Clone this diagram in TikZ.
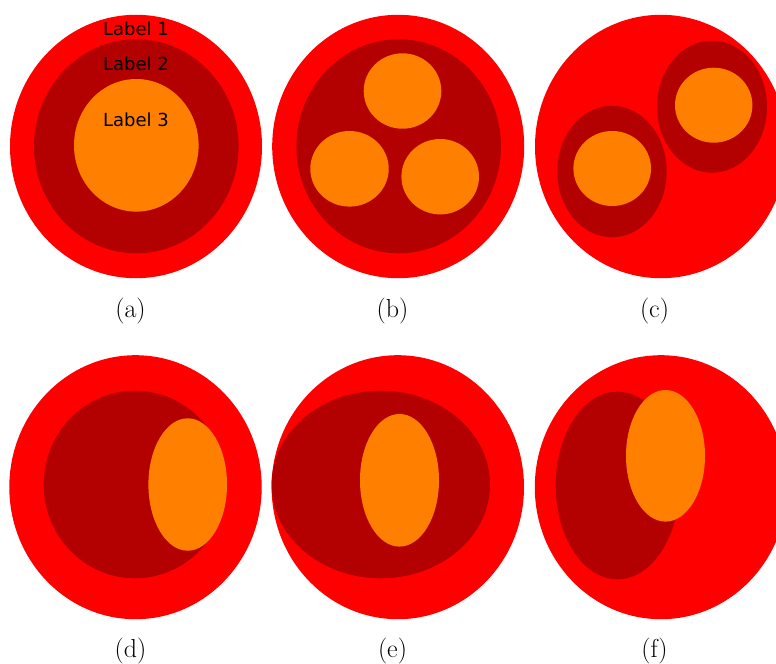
\documentclass[tikz,border=0pt]{standalone}
\usepackage{fontspec}
\newfontfamily\lblfont{DejaVu Sans}
\definecolor{cOuter}{RGB}{255,0,0}
\definecolor{cMid}{RGB}{179,0,0}
\definecolor{cCore}{RGB}{255,128,0}
\begin{document}
\begin{tikzpicture}[x=0.75pt,y=-0.75pt,
  outerfill/.style={fill=cOuter},
  midfill/.style={fill=cMid},
  corefill/.style={fill=cCore},
  lbl/.style={inner sep=0pt,font=\lblfont\fontsize{13.5}{15}\selectfont},
  subcap/.style={inner sep=0pt,font=\fontsize{19.5}{22}\selectfont}]
\useasboundingbox (0,0) rectangle (776,664);
\clip (0,0) rectangle (776,664);
% (a)
\fill[outerfill] (136,146.5) ellipse [x radius=126, y radius=131.7];
\fill[midfill] (136.3,146.3) ellipse [x radius=102.3, y radius=107];
\fill[corefill] (136.3,145.3) ellipse [x radius=62.3, y radius=66.3];
\node[lbl] (l1) at (136,29) {Label 1};
\node[lbl] (l2) at (136,63.5) {Label 2};
\node[lbl] (l3) at (136,119.5) {Label 3};
% (b)
\fill[outerfill] (398.2,146.5) ellipse [x radius=126, y radius=131.7];
\fill[midfill] (398.7,146.3) ellipse [x radius=102.3, y radius=107];
\fill[corefill] (402.5,91) ellipse [x radius=38.8, y radius=37.7];
\fill[corefill] (349.5,168.8) ellipse [x radius=39.2, y radius=37.8];
\fill[corefill] (440.2,176.7) ellipse [x radius=38.8, y radius=37.7];
% (c)
\fill[outerfill] (661,146.5) ellipse [x radius=126, y radius=131.7];
\fill[midfill] (612,171.5) ellipse [x radius=54.7, y radius=65.8];
\fill[corefill] (612.2,168.5) ellipse [x radius=38.8, y radius=37.5];
\fill[midfill] (712,106.7) ellipse [x radius=55, y radius=66];
\fill[corefill] (713.7,105.2) ellipse [x radius=38.7, y radius=37.5];
% (d)
\fill[outerfill] (135.5,487.2) ellipse [x radius=126.2, y radius=132];
\fill[midfill] (135,484.5) ellipse [x radius=91.3, y radius=93.8];
\fill[corefill] (187.7,484.5) ellipse [x radius=39.3, y radius=66.2];
% (e)
\fill[outerfill] (397.8,487.2) ellipse [x radius=126.2, y radius=132];
\fill[midfill] (380.8,484.5) ellipse [x radius=109.2, y radius=93.8];
\fill[corefill] (399.5,480.3) ellipse [x radius=39.5, y radius=66.3];
% (f)
\fill[outerfill] (661,487.2) ellipse [x radius=126.2, y radius=132];
\fill[midfill] (617.5,485.5) ellipse [x radius=61.8, y radius=93.8];
\fill[corefill] (665.5,455.8) ellipse [x radius=39.5, y radius=65.8];
% captions
\node[subcap] (ca) at (130.5,311.5) {(a)};
\node[subcap] (cb) at (392.5,311.5) {(b)};
\node[subcap] (cc) at (654.5,311.5) {(c)};
\node[subcap] (cd) at (130.5,651.5) {(d)};
\node[subcap] (ce) at (392.5,651.5) {(e)};
\node[subcap] (cf) at (654.5,651.5) {(f)};
\end{tikzpicture}
\end{document}
